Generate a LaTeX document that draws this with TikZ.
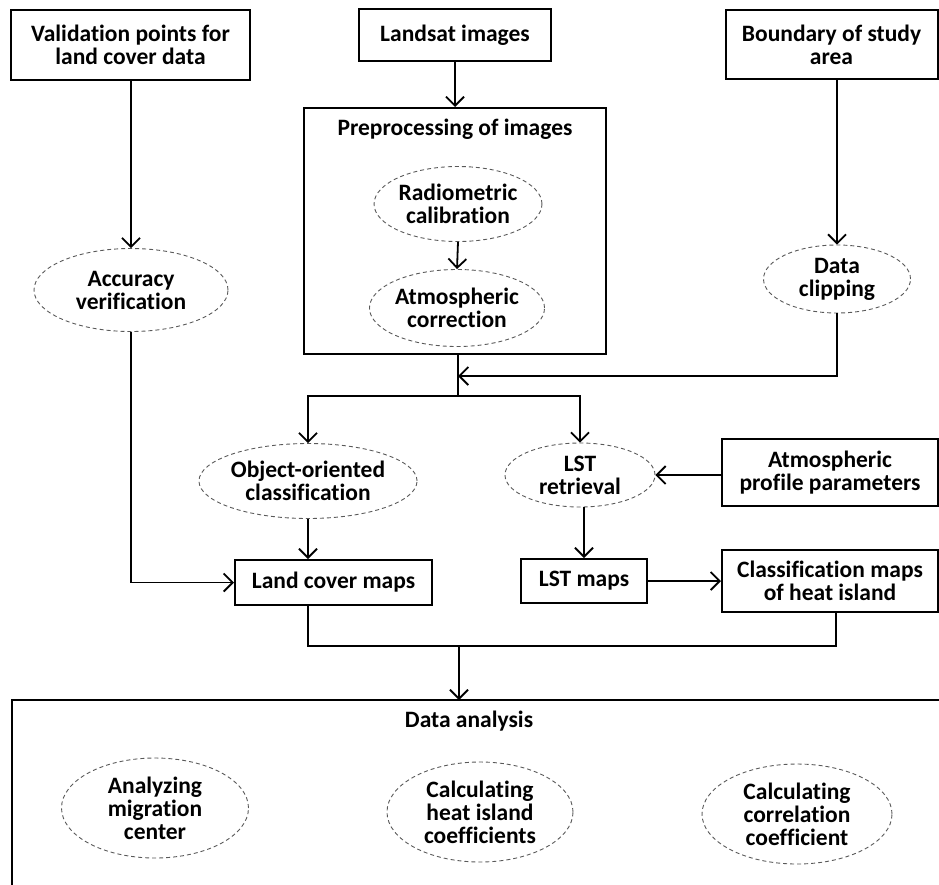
\documentclass[tikz,border=0pt]{standalone}
\usepackage{fontspec}
\setmainfont{Carlito}[Ligatures=NoCommon]
\usetikzlibrary{shapes.geometric,arrows.meta}
\tikzset{
  base/.style={font=\bfseries\fontsize{23.5}{23}\selectfont, align=center, inner sep=0pt},
  box/.style={base, draw, line width=2pt, rectangle},
  oval/.style={base, draw=black!65, ellipse, line width=0.9pt, dash pattern=on 4pt off 3pt},
  conn/.style={line width=1.8pt},
  arr/.style={conn, -{Straight Barb[length=9pt,width=18pt,line width=1.8pt]}},
}
\begin{document}
\begin{tikzpicture}[x=1pt,y=-1pt]
\useasboundingbox (0,0) rectangle (939,884);
\begin{scope}
\clip (0,0) rectangle (939,884);
% top row
\node[box, minimum width=239pt, minimum height=70pt] (val) at (130.5,45) {Validation points for\\land cover data};
\node[box, minimum width=192pt, minimum height=52pt] (landsat) at (455,35) {Landsat images};
\node[box, minimum width=212pt, minimum height=69pt] (bound) at (831.5,44.5) {Boundary of study\\area};
% preprocessing
\node[box, minimum width=302pt, minimum height=246pt] (prep) at (455,231) {};
\node[base] (preptitle) at (455,129) {Preprocessing of images};
\node[oval, minimum width=154pt, minimum height=75pt] (radio) at (458,204) {Radiometric\\calibration};
\node[oval, minimum width=153pt, minimum height=77pt] (atmc) at (457,308) {Atmospheric\\correction};
% side ellipses
\node[oval, minimum width=194pt, minimum height=83pt] (acc) at (131,290) {Accuracy\\verification};
\node[oval, minimum width=147pt, minimum height=68pt] (clip) at (837,279) {Data\\clipping};
% middle
\node[oval, minimum width=203pt, minimum height=75pt] (obj) at (308,481) {Object-oriented\\classification};
\node[oval, minimum width=150pt, minimum height=64pt] (lstr) at (580,475) {LST\\retrieval};
\node[box, minimum width=216pt, minimum height=67pt] (atmp) at (830,472.5) {Atmospheric\\profile parameters};
\node[box, minimum width=197pt, minimum height=45pt] (lcm) at (333.5,582.5) {Land cover maps};
\node[box, minimum width=126pt, minimum height=44pt] (lstm) at (584,581) {LST maps};
\node[box, minimum width=216pt, minimum height=62pt] (cmap) at (830,581) {Classification maps\\of heat island};
% data analysis
\draw[line width=2pt] (12,900) -- (12,700) -- (960,700) -- (960,900) -- cycle;
\coordinate (datop) at (459,700);
\node[base] (datitle) at (469,721) {Data analysis};
\node[oval, minimum width=187pt, minimum height=100pt] (e1) at (155,808) {Analyzing\\migration\\center};
\node[oval, minimum width=186pt, minimum height=100pt] (e2) at (480,812) {Calculating\\heat island\\coefficients};
\node[oval, minimum width=190pt, minimum height=100pt] (e3) at (797,814) {Calculating\\correlation\\coefficient};
% coordinates
\coordinate (j1) at (458,376);
\coordinate (split) at (458,396);
\coordinate (m1) at (459,646);
\coordinate (m2) at (836,646);
% connectors
\draw[arr] (val.south -| acc.north) -- (acc.north);
\draw[arr] (acc.south) |- (lcm.west);
\draw[arr] (landsat.south) -- (landsat.south |- prep.north);
\draw[arr] (radio.south) -- (atmc.north);
\draw[arr] (clip.north |- bound.south) -- (clip.north);
\draw[arr] (clip.south) |- (j1);
\draw[conn] (prep.south -| split) -- (split);
\draw[arr] (split) -| (obj.north);
\draw[arr] (split) -| (lstr.north);
\draw[arr] (obj.south) -- (obj.south |- lcm.north);
\draw[arr] (atmp.west |- lstr.east) -- (lstr.east);
\draw[arr] (lstm.north |- lstr.south) -- (lstm.north);
\draw[arr] (lstm.east) -- (cmap.west |- lstm.east);
\draw[conn] (obj.south |- lcm.south) |- (m2) -- (m2 |- cmap.south);
\draw[arr] (m1) -- (datop);
\end{scope}
\end{tikzpicture}
\end{document}
